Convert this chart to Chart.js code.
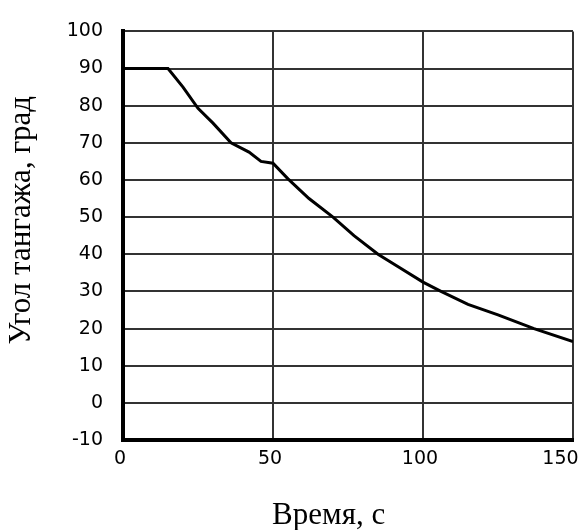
<!DOCTYPE html>
<html>
<head>
<meta charset="utf-8">
<script src="https://cdn.jsdelivr.net/npm/chart.js@4"></script>
<style>
  body { margin: 0; background: #fff; }
  #wrap { width: 579px; height: 530px; position: relative; }
</style>
</head>
<body>
<div id="wrap"><canvas id="pitch_chart"></canvas></div>
<script>
// время, с
const time = [0, 15, 20, 25, 30, 36, 42, 46, 50, 55, 62, 70, 77, 85, 92, 100, 106, 115, 125, 137, 150];
// угол тангажа, град
const pitch = [90, 90, 85, 79.3, 75.3, 70, 67.5, 65, 64.5, 60.3, 55, 50, 45, 40, 36.5, 32.5, 30, 26.5, 23.7, 20, 16.5];

// leading / trailing spaces nudge the titles off-centre like in the original figure
const x_title = 'Время, с\u2003\u2005';
const y_title = '\u2003Угол тангажа, град';

let points = time.map((t, i) => ({x: t, y: pitch[i]}));

let chart_setup = {
  type: 'line',
  data: {
    datasets: [{
      data: points,
      borderColor: '#000',
      borderWidth: 3,
      pointRadius: 0,
      tension: 0,
      fill: false,
    }]
  },
  options: {
    animation: false,
    responsive: true,
    maintainAspectRatio: false,
    layout: {
      padding: {top: 27, right: 6, left: 0, bottom: 0}
    },
    plugins: {
      legend: { display: false },
      tooltip: { enabled: false }
    },
    scales: {
      x: {
        type: 'linear',
        min: 0,
        max: 150,
        ticks: {
          stepSize: 50,
          padding: 8,
          labelOffset: -3,
          maxRotation: 0,
          color: '#000',
          font: {family: 'DejaVu Sans', size: 19},
          callback: (v) => v === 150 ? '150\u2003' : String(v),
        },
        grid: { color: '#333', lineWidth: 2, drawTicks: false },
        border: { color: '#000', width: 4 },
        title: {
          display: true,
          text: x_title,
          color: '#000',
          font: {family: 'Liberation Serif', size: 31, lineHeight: 0.9},
          padding: {top: 0, bottom: 0}
        },
        afterFit: (scale) => {
          scale.height = 90;
          scale.paddingLeft = 0;
          scale.paddingRight = 0;
        }
      },
      y: {
        min: -10,
        max: 100,
        ticks: {
          stepSize: 10,
          padding: 20,
          color: '#000',
          font: {family: 'DejaVu Sans', size: 19},
        },
        grid: { color: '#333', lineWidth: 2, drawTicks: false },
        border: { color: '#000', width: 4 },
        title: {
          display: true,
          text: y_title,
          color: '#000',
          font: {family: 'Liberation Serif', size: 31},
          padding: {top: 3, bottom: 0}
        },
        afterFit: (scale) => {
          scale.width = 123;
        }
      }
    }
  }
};

const ctx = document.getElementById('pitch_chart');
new Chart(ctx, chart_setup);
</script>
</body>
</html>
